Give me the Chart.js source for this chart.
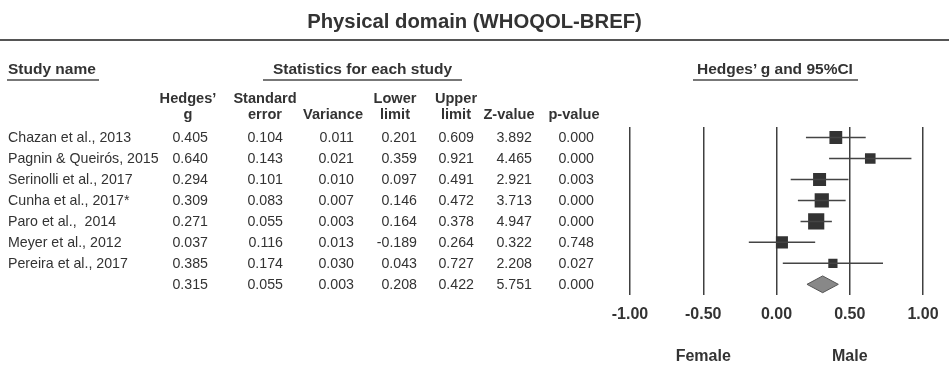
<!DOCTYPE html>
<html>
<head>
<meta charset="utf-8">
<script src="https://cdn.jsdelivr.net/npm/chart.js@4.4.1/dist/chart.umd.min.js"></script>
<style>
  body { margin: 0; background: #fff; }
  #wrap { position: relative; width: 949px; height: 374px; font-family: "Liberation Sans", Arial, Helvetica, sans-serif; color: #333; }
  #forest { position: absolute; left: 0; top: 0; }
  .t { position: absolute; white-space: pre; line-height: 16px; }
  .b { font-weight: bold; }
  .ul { border-bottom: 2px solid #777; padding-bottom: 2px; }
</style>
</head>
<body>
<div id="wrap">
  <canvas id="forest" width="949" height="374"></canvas>
</div>
<script>
const title = 'Physical domain (WHOQOL-BREF)';
const studies = ['Chazan et al., 2013', 'Pagnin & Queirós, 2015', 'Serinolli et al., 2017', 'Cunha et al., 2017*',
                 'Paro et al.,  2014', 'Meyer et al., 2012', 'Pereira et al., 2017', ''];
const hedgesG = [0.405, 0.640, 0.294, 0.309, 0.271, 0.037, 0.385, 0.315];
const stdErr = [0.104, 0.143, 0.101, 0.083, 0.055, 0.116, 0.174, 0.055];
const variance = [0.011, 0.021, 0.010, 0.007, 0.003, 0.013, 0.030, 0.003];
const lowerLimit = [0.201, 0.359, 0.097, 0.146, 0.164, -0.189, 0.043, 0.208];
const upperLimit = [0.609, 0.921, 0.491, 0.472, 0.378, 0.264, 0.727, 0.422];
const zValue = [3.892, 4.465, 2.921, 3.713, 4.947, 0.322, 2.208, 5.751];
const pValue = [0.000, 0.000, 0.003, 0.000, 0.000, 0.748, 0.027, 0.000];
const colHeads = [['Hedges\u2019', 'g'], ['Standard', 'error'], ['', 'Variance'], ['Lower', 'limit'],
                  ['Upper', 'limit'], ['', 'Z-value'], ['', 'p-value']];
const tickValues = [-1, -0.5, 0, 0.5, 1];
const sideLabels = ['Female', 'Male'];
const sideAt = [-0.5, 0.5];

const nStudy = 7;  // last row is the summary

// random-effects weights (DerSimonian-Laird) for the square sizes
function reWeights() {
    let w = [], sw = 0, sw2 = 0, swy = 0;
    for (let i = 0; i < nStudy; i++) {
        let wi = 1 / (stdErr[i] * stdErr[i]);
        w.push(wi); sw += wi; sw2 += wi * wi; swy += wi * hedgesG[i];
    }
    let m = swy / sw, q = 0;
    for (let i = 0; i < nStudy; i++) q += w[i] * Math.pow(hedgesG[i] - m, 2);
    let tau2 = Math.max(0, (q - (nStudy - 1)) / (sw - sw2 / sw));
    return stdErr.slice(0, nStudy).map(s => 1 / (s * s + tau2));
}
const weights = reWeights();

// CI lines, broken between studies
var ciData = [];
for (let i = 0; i < nStudy; i++) {
    ciData.push({x: lowerLimit[i], y: i + 1});
    ciData.push({x: upperLimit[i], y: i + 1});
    ciData.push({x: NaN, y: NaN});
}
var sqData = [];
for (let i = 0; i < nStudy; i++) sqData.push({x: hedgesG[i], y: i + 1});

const s = nStudy;
const diamondData = [
    {x: lowerLimit[s], y: s + 1},
    {x: hedgesG[s], y: s + 1 - 0.4},
    {x: upperLimit[s], y: s + 1},
    {x: hedgesG[s], y: s + 1 + 0.4},
    {x: lowerLimit[s], y: s + 1}
];

var ctx = document.getElementById('forest').getContext('2d');
window.forestChart = new Chart(ctx, {
    type: 'scatter',
    data: {
        datasets: [{
            type: 'line',
            data: ciData,
            showLine: true,
            spanGaps: false,
            borderColor: '#444',
            borderWidth: 1.5,
            pointRadius: 0
        }, {
            data: sqData,
            pointStyle: 'rect',
            pointRadius: weights.map(w => 1.85 * Math.sqrt(w) / Math.SQRT2),
            backgroundColor: '#333',
            borderColor: '#333',
            borderWidth: 0
        }, {
            type: 'line',
            data: diamondData,
            fill: 'shape',
            backgroundColor: '#888',
            borderColor: '#555',
            borderWidth: 1,
            pointRadius: 0
        }]
    },
    options: {
        responsive: false,
        animation: false,
        events: [],
        layout: {
            padding: {left: 630, right: 26, top: 127, bottom: 40}
        },
        scales: {
            x: {
                type: 'linear',
                min: -1,
                max: 1,
                afterBuildTicks: (axis) => { axis.ticks = tickValues.map(v => ({value: v})); },
                ticks: {
                    callback: (v) => Number(v).toFixed(2),
                    color: '#333',
                    font: {family: '"Liberation Sans", Arial, sans-serif', size: 16, weight: 'bold'},
                    padding: 10,
                    maxRotation: 0
                },
                grid: {
                    color: '#404040',
                    lineWidth: 1.5,
                    drawTicks: false
                },
                border: { display: false }
            },
            y: {
                type: 'linear',
                min: 0.5,
                max: 8.5,
                reverse: true,
                display: false
            }
        },
        plugins: {
            legend: { display: false },
            tooltip: { enabled: false }
        }
    }
});

// text parts of the page
const wrap = document.getElementById('wrap');
function addText(txt, css, cls) {
    let d = document.createElement('div');
    d.className = 't ' + (cls || '');
    d.textContent = txt;
    Object.assign(d.style, css);
    wrap.appendChild(d);
    return d;
}

addText(title, {left: '0px', width: '949px', textAlign: 'center', top: '9px', fontSize: '20.3px', lineHeight: '24px'}, 'b');
addText('', {left: '0px', top: '39px', width: '949px', height: '0px', borderTop: '2px solid #555'});

addText('Study name', {left: '7px', top: '61px', fontSize: '15.5px', padding: '0 3px 2px 1px'}, 'b ul');
addText('Statistics for each study', {left: '263px', top: '61px', fontSize: '15.5px', padding: '0 10px 2px 10px'}, 'b ul');
addText('Hedges\u2019 g and 95%CI', {left: '693px', top: '61px', fontSize: '15.5px', padding: '0 5px 2px 4px'}, 'b ul');

const headCenter = [188, 265, 333, 395, 456, 509, 574];
const colRight = [208, 283, 354, 417, 474, 532, 594];
for (let c = 0; c < colHeads.length; c++) {
    for (let l = 0; l < 2; l++) {
        if (!colHeads[c][l]) continue;
        addText(colHeads[c][l], {left: (headCenter[c] - 50) + 'px', width: '100px', textAlign: 'center',
                top: (90 + l * 16) + 'px', fontSize: '14.6px'}, 'b');
    }
}

const yScale = forestChart.scales.y;
const xScale = forestChart.scales.x;
const cols = [hedgesG, stdErr, variance, lowerLimit, upperLimit, zValue, pValue];
for (let i = 0; i < studies.length; i++) {
    let yc = yScale.getPixelForValue(i + 1);
    let top = (yc - 8) + 'px';
    if (studies[i]) addText(studies[i], {left: '8px', top: top, fontSize: '14.2px'});
    for (let c = 0; c < cols.length; c++) {
        addText(cols[c][i].toFixed(3), {right: (949 - colRight[c]) + 'px', top: top, fontSize: '14.2px', textAlign: 'right'});
    }
}

for (let k = 0; k < sideLabels.length; k++) {
    let xc = xScale.getPixelForValue(sideAt[k]);
    addText(sideLabels[k], {left: (xc - 50) + 'px', width: '100px', textAlign: 'center', top: '348px', fontSize: '16px'}, 'b');
}
</script>
</body>
</html>
